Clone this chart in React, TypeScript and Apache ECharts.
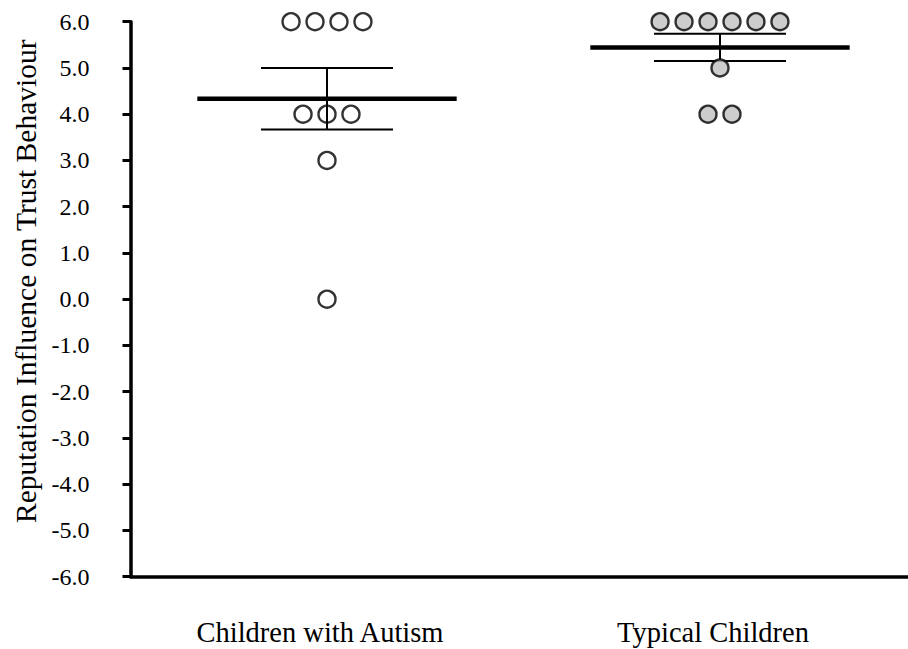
import React, { useEffect, useRef } from "react";
import * as echarts from "echarts";

const categories = ["Children with Autism", "Typical Children"];
const autismScores = [6, 6, 6, 6, 4, 4, 4, 3, 0];
const typicalScores = [6, 6, 6, 6, 6, 6, 5, 4, 4];
const yTicks = { min: -6, max: 6, interval: 1 };

const FONT = "'Liberation Serif', 'Times New Roman', serif";

function mean(a: number[]) {
  return a.reduce((s, v) => s + v, 0) / a.length;
}
function stdErr(a: number[]) {
  const m = mean(a);
  const v = a.reduce((s, x) => s + (x - m) * (x - m), 0) / (a.length - 1);
  return Math.sqrt(v) / Math.sqrt(a.length);
}
// beeswarm: spread identical values symmetrically around the category centre
function swarm(scores: number[], idx: number, step: number) {
  const counts: Record<number, number> = {};
  scores.forEach((v) => (counts[v] = (counts[v] || 0) + 1));
  const seen: Record<number, number> = {};
  return scores.map((v) => {
    const k = counts[v];
    const j = seen[v] || 0;
    seen[v] = j + 1;
    return [idx + (j - (k - 1) / 2) * step, v];
  });
}

export default function App() {
  const ref = useRef<HTMLDivElement>(null);
  useEffect(() => {
    const chart = echarts.init(ref.current!, null, { renderer: "svg" });
    const STEP = 0.061;
    const groups = [autismScores, typicalScores];
    const summary = groups.map((g, i) => {
      const m = mean(g);
      const se = stdErr(g);
      return [i, m, m - se, m + se];
    });
    chart.setOption({
      animation: false,
      backgroundColor: "#ffffff",
      grid: { left: 130.5, width: 786, top: 21.7, bottom: 72.3, outerBoundsMode: "none", containLabel: false },
      xAxis: [
        {
          type: "category",
          data: categories,
          boundaryGap: true,
          axisLine: { onZero: false, lineStyle: { color: "#000", width: 3.5 } },
          axisTick: { alignWithLabel: true, length: 8, lineStyle: { color: "#000", width: 3 } },
          axisLabel: {
            color: "#000",
            fontFamily: FONT,
            fontSize: 28.5,
            margin: 41,
            padding: [0, 14, 0, 0],
          },
          splitLine: { show: false },
        },
        { type: "value", min: -0.5, max: 1.5, show: false },
      ],
      yAxis: {
        type: "value",
        min: yTicks.min,
        max: yTicks.max,
        interval: yTicks.interval,
        name: "Reputation Influence on Trust Behaviour",
        nameLocation: "middle",
        nameRotate: 90,
        nameGap: 88,
        nameTextStyle: { color: "#000", fontFamily: FONT, fontSize: 29.5, padding: [0, 0, 0, 36] },
        axisLine: { show: true, onZero: false, lineStyle: { color: "#000", width: 3.5 } },
        axisTick: { show: true, length: 8, lineStyle: { color: "#000", width: 3 } },
        axisLabel: {
          color: "#000",
          fontFamily: FONT,
          fontSize: 24,
          margin: 41,
          formatter: (v: number) => v.toFixed(1),
        },
        splitLine: { show: false },
      },
      series: [
        {
          type: "custom",
          xAxisIndex: 1,
          data: summary,
          z: 1,
          renderItem: (params: any, api: any) => {
            const i = api.value(0);
            const m = api.value(1);
            const lo = api.value(2);
            const hi = api.value(3);
            const pm = api.coord([i, m]);
            const plo = api.coord([i, lo]);
            const phi = api.coord([i, hi]);
            const unit = api.size([1, 0])[0];
            const half = unit * 0.33;
            const cap = unit * 0.168;
            return {
              type: "group",
              children: [
                {
                  type: "line",
                  shape: { x1: plo[0], y1: plo[1], x2: phi[0], y2: phi[1] },
                  style: { stroke: "#000", lineWidth: 2 },
                },
                {
                  type: "line",
                  shape: { x1: plo[0] - cap, y1: plo[1], x2: plo[0] + cap, y2: plo[1] },
                  style: { stroke: "#000", lineWidth: 2 },
                },
                {
                  type: "line",
                  shape: { x1: phi[0] - cap, y1: phi[1], x2: phi[0] + cap, y2: phi[1] },
                  style: { stroke: "#000", lineWidth: 2 },
                },
                {
                  type: "line",
                  shape: { x1: pm[0] - half, y1: pm[1], x2: pm[0] + half, y2: pm[1] },
                  style: { stroke: "#000", lineWidth: 4.5 },
                },
              ],
            };
          },
        },
        {
          type: "scatter",
          name: categories[0],
          xAxisIndex: 1,
          z: 3,
          symbol: "circle",
          symbolSize: 17,
          itemStyle: { color: "rgba(255,255,255,0)", borderColor: "#000", borderWidth: 2.4 },
          data: swarm(autismScores, 0, STEP),
        },
        {
          type: "scatter",
          name: categories[1],
          xAxisIndex: 1,
          z: 3,
          symbol: "circle",
          symbolSize: 17,
          itemStyle: { color: "#c0c0c0", borderColor: "#000", borderWidth: 2.4 },
          data: swarm(typicalScores, 1, STEP),
        },
      ],
    });
    return () => chart.dispose();
  }, []);
  return (
    <div
      ref={ref}
      style={{ position: "fixed", left: 0, top: 0, width: 908, height: 649, background: "#fff" }}
    />
  );
}
